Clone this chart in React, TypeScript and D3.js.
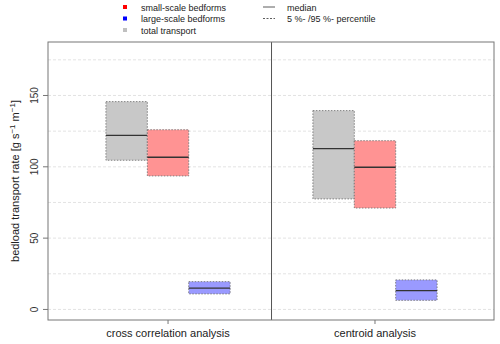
import React from 'react';
import * as d3 from 'd3';

const methods = ['cross correlation analysis', 'centroid analysis'];
// per method: [p5, median, p95] for each series
const totalStats = [[104.6, 122.1, 145.7], [77.5, 112.7, 139.4]];
const smallStats = [[93.6, 106.7, 126.0], [71.1, 99.7, 118.3]];
const largeStats = [[10.9, 14.9, 19.5], [6.4, 13.2, 20.7]];
const yTicks = [0, 50, 100, 150];
const gridValues = [0, 25, 50, 75, 100, 125, 150, 175];

const fills = ['#c8c8c8', '#ff9393', '#9a9aff'];
const legendColors = ['#ff0000', '#0000ff', '#c0c0c0'];
const legendLabels = ['small-scale bedforms', 'large-scale bedforms', 'total transport'];

const W = 500;
const H = 344;
const left = 48;
const right = 494;
const top = 42;
const bottom = 320;
const font = 'Liberation Sans, Arial, sans-serif';

const App = () => {
  const x = d3.scaleLinear().domain([0.42, 2.575]).range([left, right]);
  const y = d3.scaleLinear().domain([-7.4, 187.5]).range([bottom, top]);
  const all = [totalStats, smallStats, largeStats];
  const offsets = [-0.2, 0, 0.2];
  const bw = 0.2;

  return (
    <svg width={W} height={H} style={{ position: 'absolute', left: 0, top: 0 }} fontFamily={font}>
      {/* grid */}
      {gridValues.map((v) => (
        <line key={v} x1={left} x2={right} y1={y(v)} y2={y(v)} stroke="#dcdcdc" strokeWidth={0.8} strokeDasharray="3,2" />
      ))}
      {/* boxes */}
      {methods.map((m, mi) =>
        all.map((stats, si) => {
          const [lo, med, hi] = stats[mi];
          const cx = mi + 1 + offsets[si];
          const x0 = x(cx - bw / 2);
          const x1 = x(cx + bw / 2);
          return (
            <g key={`${mi}-${si}`}>
              <rect x={x0} y={y(hi)} width={x1 - x0} height={y(lo) - y(hi)} fill={fills[si]} stroke="#777" strokeWidth={0.9} strokeDasharray="1.5,1.5" />
              <line x1={x0} x2={x1} y1={y(med)} y2={y(med)} stroke="#333" strokeWidth={1.3} />
            </g>
          );
        })
      )}
      {/* divider */}
      <line x1={x(1.5)} x2={x(1.5)} y1={top} y2={bottom} stroke="#555" strokeWidth={1} />
      {/* frame */}
      <rect x={left} y={top} width={right - left} height={bottom - top} fill="none" stroke="#777" strokeWidth={1} />
      {/* y axis */}
      {yTicks.map((t) => (
        <g key={t}>
          <line x1={left - 5} x2={left} y1={y(t)} y2={y(t)} stroke="#777" />
          <text x={38} y={y(t)} transform={`rotate(-90, 38, ${y(t)})`} textAnchor="middle" fontSize={10} fill="#333">{t}</text>
        </g>
      ))}
      <text x={19} y={181} transform="rotate(-90, 19, 181)" textAnchor="middle" fontSize={11} fill="#222">
        bedload transport rate [g s
        <tspan dy={-4.5} fontSize={8}>−1</tspan>
        <tspan dy={4.5}>  m</tspan>
        <tspan dy={-4.5} fontSize={8}>−1</tspan>
        <tspan dy={4.5}>]</tspan>
      </text>
      {/* x axis */}
      {methods.map((m, i) => (
        <g key={m}>
          <line x1={x(i + 1)} x2={x(i + 1)} y1={bottom} y2={bottom + 4} stroke="#777" />
          <text x={x(i + 1)} y={337} textAnchor="middle" fontSize={11} fill="#222">{m}</text>
        </g>
      ))}
      {/* legend */}
      {legendLabels.map((l, i) => (
        <g key={l}>
          <rect x={123} y={5 + i * 11.5} width={4} height={4} fill={legendColors[i]} />
          <text x={141} y={10.5 + i * 11.5} fontSize={9} fill="#222">{l}</text>
        </g>
      ))}
      <line x1={263} x2={275} y1={7} y2={7} stroke="#333" strokeWidth={0.8} />
      <text x={287} y={10.5} fontSize={9} fill="#222">median</text>
      <line x1={263} x2={275} y1={18.5} y2={18.5} stroke="#333" strokeWidth={0.8} strokeDasharray="2,1.5" />
      <text x={287} y={22} fontSize={9} fill="#222">5 %- /95 %- percentile</text>
    </svg>
  );
};

export default App;
